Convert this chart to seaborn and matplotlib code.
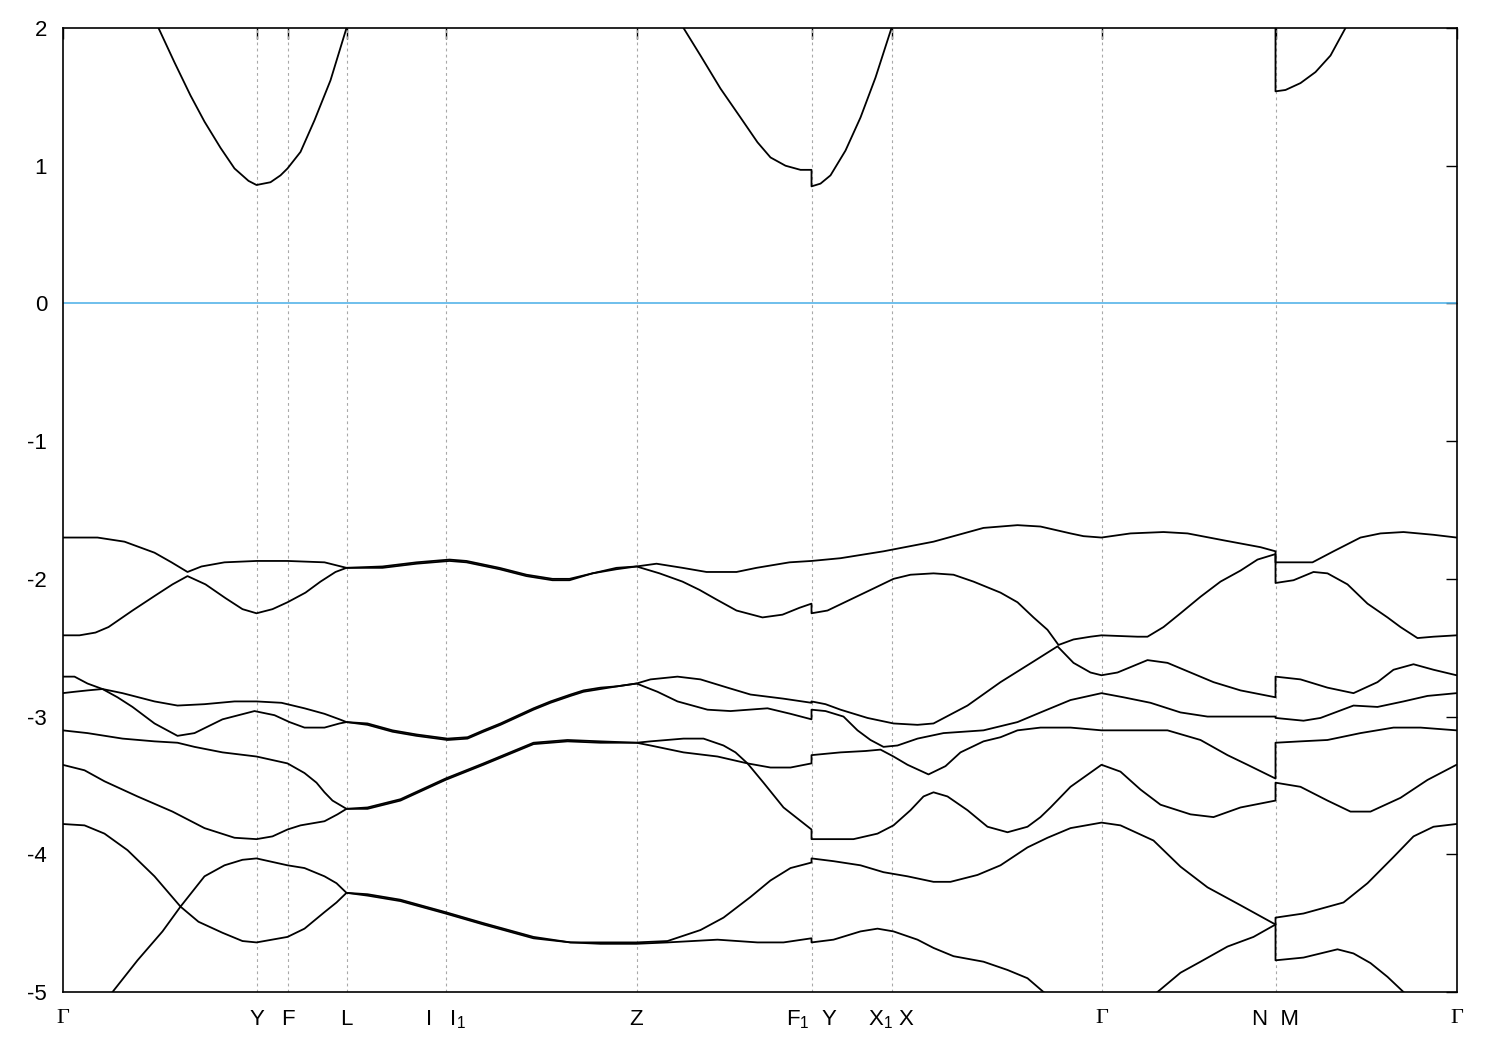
import matplotlib
matplotlib.use("Agg")
import matplotlib.pyplot as plt
import seaborn as sns
import pandas as pd

# ---------------- data (k = path length, arbitrary units; E in eV) ----------------
tick_k = [0, 194, 225, 284, 383, 574, 749, 829, 1039, 1213, 1394]
tick_labels = ["Γ", "Y", "F", "L", "I   I$_1$", "Z", "F$_1$  Y", "X$_1$ X", "Γ", "N  M", "Γ"]
y_ticks = [-5, -4, -3, -2, -1, 0, 1, 2]

# valence band 1 (highest)
v1_k_A = [0, 17, 35, 62, 92, 109, 125, 139, 162, 194, 225, 262, 284, 320, 354, 387, 404, 437, 464, 490, 507, 530, 554, 574, 594, 620, 644, 674, 694, 727, 749]
v1_E_A = [-1.70, -1.70, -1.70, -1.73, -1.81, -1.88, -1.95, -1.91, -1.88, -1.87, -1.87, -1.88, -1.92, -1.91, -1.88, -1.86, -1.87, -1.92, -1.97, -2.00, -2.00, -1.96, -1.92, -1.91, -1.89, -1.92, -1.95, -1.95, -1.92, -1.88, -1.87]
v1_k_B = [749, 778, 821, 871, 921, 955, 978, 1008, 1021, 1039, 1068, 1101, 1125, 1161, 1198, 1213]
v1_E_B = [-1.87, -1.85, -1.80, -1.73, -1.63, -1.61, -1.62, -1.67, -1.69, -1.70, -1.67, -1.66, -1.67, -1.72, -1.77, -1.80]
v1_k_C = [1213, 1238, 1250, 1271, 1298, 1318, 1341, 1371, 1394]
v1_E_C = [-1.88, -1.88, -1.88, -1.80, -1.70, -1.67, -1.66, -1.68, -1.70]

# valence band 2
v2_k_A = [0, 17, 33, 46, 70, 93, 110, 125, 143, 163, 180, 194, 210, 225, 243, 258, 273, 284, 320, 354, 387, 404, 437, 464, 490, 507, 530, 554, 574, 597, 620, 637, 654, 674, 700, 720, 737, 749]
v2_E_A = [-2.41, -2.41, -2.39, -2.35, -2.23, -2.12, -2.04, -1.98, -2.04, -2.14, -2.22, -2.25, -2.22, -2.17, -2.10, -2.02, -1.95, -1.92, -1.92, -1.89, -1.87, -1.88, -1.93, -1.98, -2.01, -2.01, -1.96, -1.93, -1.91, -1.96, -2.02, -2.08, -2.15, -2.23, -2.28, -2.26, -2.21, -2.18]
v2_k_B = [749, 765, 788, 811, 831, 848, 871, 891, 911, 938, 955, 971, 985, 996, 1011, 1028, 1039, 1075, 1085, 1101, 1118, 1138, 1158, 1178, 1195, 1213]
v2_E_B = [-2.25, -2.23, -2.15, -2.07, -2.00, -1.97, -1.96, -1.97, -2.02, -2.10, -2.17, -2.28, -2.37, -2.48, -2.44, -2.42, -2.41, -2.42, -2.42, -2.35, -2.25, -2.13, -2.02, -1.94, -1.86, -1.82]
v2_k_C = [1213, 1231, 1251, 1265, 1285, 1305, 1325, 1338, 1355, 1371, 1394]
v2_E_C = [-2.03, -2.01, -1.95, -1.96, -2.04, -2.18, -2.28, -2.35, -2.43, -2.42, -2.41]

# valence band 3
v3_k_A = [0, 12, 25, 40, 60, 92, 115, 142, 172, 194, 219, 242, 262, 277, 284, 305, 330, 354, 385, 405, 421, 438, 471, 488, 508, 521, 538, 555, 574, 588, 615, 638, 665, 688, 721, 749]
v3_E_A = [-2.71, -2.71, -2.76, -2.80, -2.83, -2.89, -2.92, -2.91, -2.89, -2.89, -2.90, -2.94, -2.98, -3.02, -3.04, -3.05, -3.10, -3.13, -3.16, -3.15, -3.10, -3.05, -2.94, -2.89, -2.84, -2.81, -2.79, -2.78, -2.76, -2.73, -2.71, -2.73, -2.79, -2.84, -2.87, -2.90]
v3_k_B = [749, 763, 778, 805, 831, 855, 871, 905, 938, 971, 995, 1011, 1028, 1039, 1055, 1085, 1105, 1128, 1151, 1178, 1213]
v3_E_B = [-2.89, -2.91, -2.95, -3.01, -3.05, -3.06, -3.05, -2.92, -2.75, -2.60, -2.49, -2.61, -2.68, -2.70, -2.68, -2.59, -2.61, -2.68, -2.75, -2.81, -2.86]
v3_k_C = [1213, 1238, 1265, 1291, 1315, 1331, 1351, 1371, 1394]
v3_E_C = [-2.71, -2.73, -2.79, -2.83, -2.75, -2.66, -2.62, -2.66, -2.70]

# valence band 4
v4_k_A = [0, 12, 25, 40, 55, 70, 92, 115, 132, 160, 192, 212, 227, 242, 262, 277, 284, 305, 330, 354, 385, 405, 421, 438, 471, 488, 508, 521, 538, 555, 574, 595, 615, 645, 668, 705, 728, 749]
v4_E_A = [-2.83, -2.82, -2.81, -2.80, -2.86, -2.93, -3.05, -3.14, -3.12, -3.02, -2.96, -2.99, -3.04, -3.08, -3.08, -3.05, -3.04, -3.06, -3.11, -3.14, -3.17, -3.16, -3.11, -3.06, -2.95, -2.90, -2.85, -2.82, -2.80, -2.78, -2.76, -2.82, -2.89, -2.95, -2.96, -2.94, -2.98, -3.02]
v4_k_B = [749, 763, 781, 795, 808, 821, 835, 855, 881, 921, 955, 978, 1008, 1039, 1061, 1088, 1118, 1145, 1178, 1213]
v4_E_B = [-2.95, -2.96, -3.00, -3.10, -3.17, -3.22, -3.21, -3.16, -3.12, -3.10, -3.04, -2.97, -2.88, -2.83, -2.86, -2.90, -2.97, -3.00, -3.00, -3.00]
v4_k_C = [1213, 1241, 1258, 1291, 1315, 1341, 1365, 1394]
v4_E_C = [-3.01, -3.03, -3.01, -2.92, -2.93, -2.89, -2.85, -2.83]

# valence band 5
v5_k_A = [0, 25, 60, 92, 115, 132, 160, 194, 225, 242, 254, 262, 270, 284, 305, 338, 383, 421, 471, 505, 538, 574, 588, 621, 641, 661, 673, 685, 708, 728, 749]
v5_E_A = [-3.10, -3.12, -3.16, -3.18, -3.19, -3.22, -3.26, -3.29, -3.34, -3.41, -3.48, -3.55, -3.61, -3.67, -3.66, -3.60, -3.45, -3.34, -3.19, -3.17, -3.18, -3.19, -3.18, -3.16, -3.16, -3.21, -3.26, -3.34, -3.37, -3.37, -3.34]
v5_k_B = [749, 778, 803, 818, 831, 845, 866, 883, 898, 921, 938, 955, 978, 1008, 1039, 1078, 1105, 1138, 1165, 1185, 1213]
v5_E_B = [-3.28, -3.26, -3.25, -3.24, -3.29, -3.35, -3.42, -3.36, -3.26, -3.18, -3.15, -3.10, -3.08, -3.08, -3.10, -3.10, -3.10, -3.17, -3.28, -3.35, -3.45]
v5_k_C = [1213, 1238, 1265, 1298, 1331, 1358, 1394]
v5_E_C = [-3.19, -3.18, -3.17, -3.12, -3.08, -3.08, -3.10]

# valence band 6
v6_k_A = [0, 22, 42, 75, 110, 142, 172, 194, 210, 225, 238, 262, 275, 284, 305, 338, 383, 421, 471, 505, 538, 574, 588, 621, 655, 685, 701, 721, 749]
v6_E_A = [-3.35, -3.39, -3.47, -3.58, -3.69, -3.81, -3.88, -3.89, -3.87, -3.82, -3.79, -3.76, -3.71, -3.67, -3.67, -3.61, -3.46, -3.35, -3.20, -3.18, -3.19, -3.19, -3.21, -3.26, -3.29, -3.34, -3.48, -3.66, -3.82]
v6_k_B = [749, 770, 791, 815, 831, 848, 861, 871, 885, 905, 925, 945, 965, 978, 988, 1008, 1039, 1058, 1078, 1098, 1128, 1151, 1178, 1213]
v6_E_B = [-3.89, -3.89, -3.89, -3.85, -3.79, -3.68, -3.58, -3.55, -3.58, -3.68, -3.80, -3.84, -3.80, -3.73, -3.66, -3.51, -3.35, -3.40, -3.53, -3.64, -3.71, -3.73, -3.66, -3.61]
v6_k_C = [1213, 1238, 1265, 1288, 1308, 1338, 1365, 1394]
v6_E_C = [-3.48, -3.51, -3.61, -3.69, -3.69, -3.59, -3.46, -3.35]

# valence band 7
v7_k_A = [0, 22, 42, 65, 92, 118, 142, 162, 180, 194, 225, 242, 262, 274, 284, 305, 338, 383, 421, 471, 508, 538, 574, 605, 638, 661, 688, 708, 728, 749]
v7_E_A = [-3.78, -3.79, -3.85, -3.97, -4.16, -4.38, -4.16, -4.08, -4.04, -4.03, -4.08, -4.10, -4.16, -4.21, -4.28, -4.29, -4.33, -4.42, -4.50, -4.60, -4.64, -4.64, -4.64, -4.63, -4.55, -4.46, -4.31, -4.19, -4.10, -4.06]
v7_k_B = [749, 771, 798, 821, 845, 871, 888, 915, 938, 965, 985, 1008, 1039, 1058, 1091, 1118, 1145, 1178, 1213]
v7_E_B = [-4.03, -4.05, -4.08, -4.13, -4.16, -4.20, -4.20, -4.15, -4.08, -3.95, -3.88, -3.81, -3.77, -3.79, -3.90, -4.09, -4.24, -4.37, -4.51]
v7_k_C = [1213, 1241, 1281, 1305, 1331, 1351, 1371, 1394]
v7_E_C = [-4.46, -4.43, -4.35, -4.21, -4.02, -3.87, -3.80, -3.78]

# valence band 8 (partly below the window)
v8_k_A = [0, 25, 50, 75, 100, 118, 136, 160, 180, 194, 225, 242, 262, 274, 284, 305, 338, 383, 421, 471, 508, 538, 574, 605, 655, 695, 721, 749]
v8_E_A = [-5.35, -5.20, -5.00, -4.77, -4.56, -4.38, -4.49, -4.57, -4.63, -4.64, -4.60, -4.54, -4.42, -4.35, -4.28, -4.30, -4.34, -4.43, -4.51, -4.61, -4.64, -4.65, -4.65, -4.64, -4.62, -4.64, -4.64, -4.61]
v8_k_B = [749, 771, 798, 815, 831, 855, 871, 891, 921, 945, 965, 981, 1008, 1038, 1068, 1095, 1118, 1138, 1165, 1191, 1213]
v8_E_B = [-4.64, -4.62, -4.56, -4.54, -4.56, -4.62, -4.68, -4.74, -4.78, -4.84, -4.90, -5.00, -5.13, -5.20, -5.15, -5.00, -4.86, -4.78, -4.67, -4.60, -4.51]
v8_k_C = [1213, 1241, 1275, 1291, 1308, 1325, 1341, 1368, 1394]
v8_E_C = [-4.77, -4.75, -4.69, -4.72, -4.79, -4.89, -5.00, -5.17, -5.25]

# conduction band (visible pieces)
c1_k = [96, 112, 128, 142, 158, 172, 186, 194, 208, 218, 225, 238, 252, 268, 284]
c1_E = [2.00, 1.75, 1.51, 1.32, 1.13, 0.98, 0.89, 0.86, 0.88, 0.93, 0.98, 1.10, 1.33, 1.62, 2.00]
c2_k = [621, 638, 658, 678, 695, 708, 723, 738, 749, 749, 758, 768, 783, 798, 813, 829]
c2_E = [2.00, 1.80, 1.56, 1.35, 1.17, 1.06, 1.00, 0.97, 0.97, 0.85, 0.87, 0.93, 1.11, 1.35, 1.64, 2.00]
c3_k = [1213, 1213, 1223, 1238, 1253, 1268, 1283]
c3_E = [2.20, 1.54, 1.55, 1.60, 1.68, 1.80, 2.00]

# ---------------- build long table ----------------
traces = {
    "v1": (v1_k_A + v1_k_B + v1_k_C, v1_E_A + v1_E_B + v1_E_C),
    "v2": (v2_k_A + v2_k_B + v2_k_C, v2_E_A + v2_E_B + v2_E_C),
    "v3": (v3_k_A + v3_k_B + v3_k_C, v3_E_A + v3_E_B + v3_E_C),
    "v4": (v4_k_A + v4_k_B + v4_k_C, v4_E_A + v4_E_B + v4_E_C),
    "v5": (v5_k_A + v5_k_B + v5_k_C, v5_E_A + v5_E_B + v5_E_C),
    "v6": (v6_k_A + v6_k_B + v6_k_C, v6_E_A + v6_E_B + v6_E_C),
    "v7": (v7_k_A + v7_k_B + v7_k_C, v7_E_A + v7_E_B + v7_E_C),
    "v8": (v8_k_A + v8_k_B + v8_k_C, v8_E_A + v8_E_B + v8_E_C),
    "c1": (c1_k, c1_E),
    "c2": (c2_k, c2_E),
    "c3": (c3_k, c3_E),
}
frames = []
for name, (kk, ee) in traces.items():
    d = pd.DataFrame({"k": kk, "E": ee})
    d["trace"] = name
    frames.append(d)
df = pd.concat(frames, ignore_index=True)

# ---------------- plot ----------------
sns.set_theme(style="white")
plt.rcParams["font.family"] = ["Liberation Sans", "DejaVu Sans"]
plt.rcParams["axes.unicode_minus"] = False
plt.rcParams["mathtext.fontset"] = "custom"
plt.rcParams["mathtext.rm"] = "Liberation Sans"
plt.rcParams["mathtext.it"] = "Liberation Sans"
plt.rcParams["mathtext.bf"] = "Liberation Sans"

fig = plt.figure(figsize=(15, 10.5), dpi=100)
ax = fig.add_axes([62.5 / 1500, 1 - 992 / 1050, (1456.5 - 62.5) / 1500, (992 - 28) / 1050])

for kx in tick_k[1:-1]:
    ax.axvline(kx, color="#a8a8a8", lw=0.8, ls=(0, (2.5, 3)), zorder=1)
ax.axhline(0, color="#56B4E9", lw=1.2, zorder=2)

sns.lineplot(data=df, x="k", y="E", units="trace", estimator=None, sort=False,
             color="black", lw=1.3, ax=ax, legend=False, zorder=3,
             solid_joinstyle="round", solid_capstyle="round")

ax.set_xlim(tick_k[0], tick_k[-1])
ax.set_ylim(-5, 2)
ax.set_xticks(tick_k)
ax.set_xticklabels(tick_labels)
ax.set_yticks(y_ticks)
ax.set_yticklabels([str(v) for v in y_ticks])
ax.set_xlabel("")
ax.set_ylabel("")
ax.tick_params(axis="both", direction="in", length=8, width=1.0, colors="black",
               labelsize=16, top=True, right=True)
ax.tick_params(axis="x", pad=12)
ax.tick_params(axis="y", pad=11)
for lbl in ax.get_xticklabels():
    if lbl.get_text() == "Γ":
        lbl.set_fontfamily(["Liberation Serif", "DejaVu Serif"])
for s in ax.spines.values():
    s.set_color("black")
    s.set_linewidth(1.2)

fig.savefig("out.png", dpi=100)
